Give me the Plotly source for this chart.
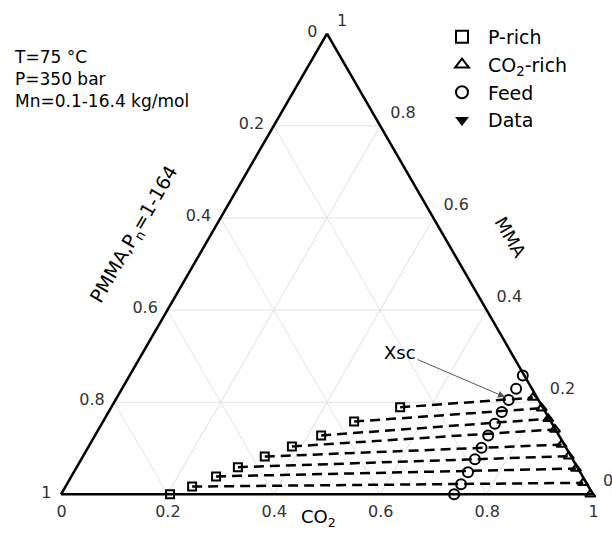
import plotly.graph_objects as go

# Phase-equilibrium data for CO2 / MMA / PMMA (mass fractions)
p_rich_mma = [0.189, 0.158, 0.128, 0.104, 0.082, 0.059, 0.039, 0.017, 0.000]
p_rich_co2 = [0.543, 0.472, 0.425, 0.382, 0.342, 0.303, 0.272, 0.238, 0.205]

co2_rich_mma = [0.210, 0.187, 0.164, 0.141, 0.108, 0.083, 0.056, 0.025, 0.000]
co2_rich_co2 = [0.782, 0.810, 0.834, 0.858, 0.887, 0.913, 0.940, 0.969, 0.995]

feed_mma = [0.258, 0.229, 0.205, 0.179, 0.153, 0.128, 0.101, 0.076, 0.048, 0.022, 0.000]
feed_co2 = [0.739, 0.741, 0.739, 0.739, 0.739, 0.739, 0.740, 0.740, 0.741, 0.741, 0.739]

tick_vals = [0, 0.2, 0.4, 0.6, 0.8, 1]


def pmma(mma, co2):
    return [round(1 - m - c, 4) for m, c in zip(mma, co2)]


def fmt(v):
    return "0" if v == 0 else ("1" if v == 1 else f"{v:.1f}")


# reversed labels: each edge shows the component that grows towards the next vertex
rev_text = [fmt(round(1 - v, 1)) for v in tick_vals]

FONT = "DejaVu Sans"

fig = go.Figure()

# tie lines (P-rich -> CO2-rich), gaps separate the segments
tie_a, tie_b, tie_c = [], [], []
for i in range(len(p_rich_mma)):
    tie_a += [p_rich_mma[i], co2_rich_mma[i], None]
    tie_c += [p_rich_co2[i], co2_rich_co2[i], None]
    tie_b += [round(1 - p_rich_mma[i] - p_rich_co2[i], 4),
              round(1 - co2_rich_mma[i] - co2_rich_co2[i], 4), None]

fig.add_trace(go.Scatterternary(
    a=tie_a, b=tie_b, c=tie_c, mode="lines", showlegend=False,
    line=dict(color="black", width=2.5, dash="10px,6px"), hoverinfo="skip"))

marker_line = dict(color="black", width=2)

fig.add_trace(go.Scatterternary(
    a=p_rich_mma, b=pmma(p_rich_mma, p_rich_co2), c=p_rich_co2,
    mode="markers", name="P-rich", cliponaxis=False,
    marker=dict(symbol="square-open", size=8, color="black", line=marker_line)))

fig.add_trace(go.Scatterternary(
    a=co2_rich_mma, b=pmma(co2_rich_mma, co2_rich_co2), c=co2_rich_co2,
    mode="markers", name="CO<sub>2</sub>-rich", cliponaxis=False,
    marker=dict(symbol="triangle-up-open", size=9, color="black", line=marker_line)))

fig.add_trace(go.Scatterternary(
    a=feed_mma, b=pmma(feed_mma, feed_co2), c=feed_co2,
    mode="markers", name="Feed", cliponaxis=False,
    marker=dict(symbol="circle-open", size=10, color="black", line=marker_line)))

# legend entry only: no measured points in this set
fig.add_trace(go.Scatterternary(
    a=[None], b=[None], c=[None], mode="markers", name="Data",
    marker=dict(symbol="triangle-down", size=12, color="black")))


def axis(ticklen):
    return dict(
        tickmode="array", tickvals=tick_vals, ticktext=rev_text,
        ticks="outside", ticklen=ticklen, tickcolor="rgba(0,0,0,0)",
        showgrid=True, gridcolor="#e2e2e2", gridwidth=1,
        linecolor="black", linewidth=2.5, title=dict(text=""),
        layer="below traces",
        tickfont=dict(family=FONT, size=16, color="#333333"),
    )


fig.update_layout(
    width=612, height=536,
    margin=dict(l=61, r=19, t=33, b=41),
    paper_bgcolor="white",
    font=dict(family=FONT, color="black"),
    ternary=dict(
        sum=1, bgcolor="white",
        aaxis=axis(6), baxis=axis(1), caxis=axis(13),
    ),
    legend=dict(
        x=(436 - 61) / 532, y=(495 - 18) / 462, xanchor="left", yanchor="top",
        font=dict(family=FONT, size=19, color="black"),
        itemwidth=42, itemsizing="constant", tracegroupgap=0,
        bgcolor="rgba(0,0,0,0)",
    ),
    showlegend=True,
)

annotations = [
    dict(text="T=75 °C<br>P=350 bar<br>Mn=0.1-16.4 kg/mol",
         x=(12 - 61) / 532, y=(495 - 45) / 462, xanchor="left", yanchor="top",
         align="left", font=dict(size=17)),
    dict(text="PMMA,P<sub>n</sub>=1-164", x=(135 - 61) / 532, y=(495 - 235) / 462,
         textangle=-60, font=dict(size=19)),
    dict(text="MMA", x=(511 - 61) / 532, y=(495 - 237) / 462,
         textangle=60, font=dict(size=18)),
    dict(text="CO<sub>2</sub>", x=(318 - 61) / 532, y=(495 - 518) / 462,
         font=dict(size=18)),
]
for ann in annotations:
    ann.setdefault("xanchor", "center")
    ann.setdefault("yanchor", "middle")
    ann.update(xref="paper", yref="paper", showarrow=False)
    fig.add_annotation(**ann)

# arrow marking the critical composition
fig.add_annotation(
    text="Xsc", xref="paper", yref="paper",
    x=(505 - 61) / 532, y=(495 - 397) / 462,
    ax=-105, ay=-45, showarrow=True, arrowhead=2, arrowsize=1.4,
    arrowwidth=1, arrowcolor="#555555", font=dict(size=18))

fig.write_html("out.html")
